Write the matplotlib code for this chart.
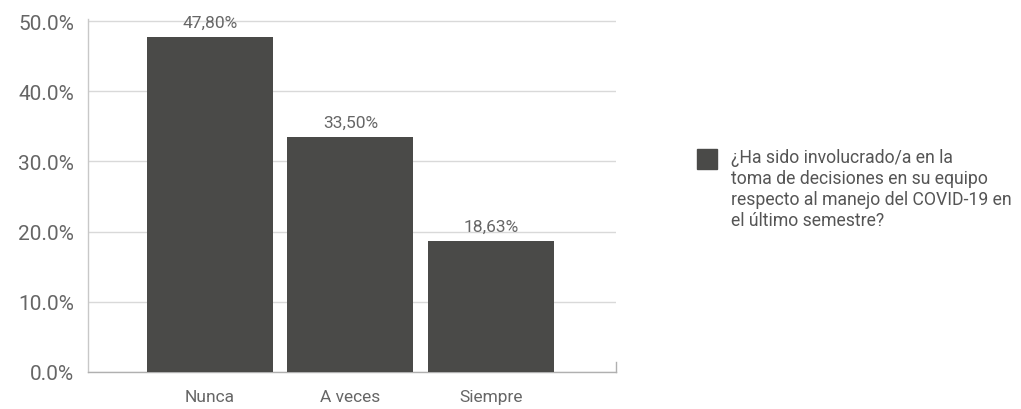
import matplotlib
matplotlib.use("Agg")
import matplotlib.pyplot as plt
from matplotlib.patches import Rectangle

categories = ["Nunca", "A veces", "Siempre"]
values = [47.80, 33.50, 18.63]
value_labels = ["47,80%", "33,50%", "18,63%"]
yticks = [0, 10, 20, 30, 40, 50]
ytick_labels = ["0.0%", "10.0%", "20.0%", "30.0%", "40.0%", "50.0%"]
legend_text = ("¿Ha sido involucrado/a en la\ntoma de decisiones en su equipo\n"
               "respecto al manejo del COVID-19 en\nel último semestre?")

bar_color = "#4a4a48"
text_color = "#666666"
grid_color = "#d9d9d9"

plt.rcParams['font.family'] = ['Roboto', 'DejaVu Sans']

fig = plt.figure(figsize=(10.21, 4.10), dpi=100)
W, H = 1021, 410
ax = fig.add_axes([88 / W, 1 - 373 / H, (616 - 88) / W, (373 - 20) / H])

x = list(range(len(categories)))
ax.bar(x, values, width=0.897, color=bar_color, zorder=3)
ax.set_xlim(-0.868, 2.89)
ax.set_ylim(0, 50.3)

for xi, v, lab in zip(x, values, value_labels):
    ax.annotate(lab, (xi, v), xytext=(0, 5), textcoords="offset points",
                ha="center", va="bottom", fontsize=12.5, color=text_color,
                zorder=4)

ax.set_yticks(yticks)
ax.set_yticklabels(ytick_labels, fontsize=15, color=text_color)
ax.set_xticks(x)
ax.set_xticklabels(categories, fontsize=12.5, color=text_color)
ax.tick_params(axis="x", length=0, pad=12)
ax.tick_params(axis="y", length=0, pad=10)

ax.yaxis.grid(True, color=grid_color, linewidth=1, zorder=0)
ax.set_axisbelow(True)
for s in ["top", "right"]:
    ax.spines[s].set_visible(False)
ax.spines["left"].set_color("#c8c8c8")
ax.spines["bottom"].set_color("#b0b0b0")
ax.spines["left"].set_linewidth(1)
ax.spines["bottom"].set_linewidth(1)
# small end tick at right of x axis
ax.plot([1, 1], [0, 0.028], transform=ax.transAxes, color="#b0b0b0", lw=1, clip_on=False)

# legend
fig.patches.append(Rectangle((697 / W, 1 - 170 / H), 20 / W, 20 / H,
                             transform=fig.transFigure, color=bar_color))
fig.text(731 / W, 1 - 149 / H, legend_text, ha="left", va="top", fontsize=12.7,
         color="#555555", linespacing=1.22)

fig.savefig("out.png", dpi=100)
